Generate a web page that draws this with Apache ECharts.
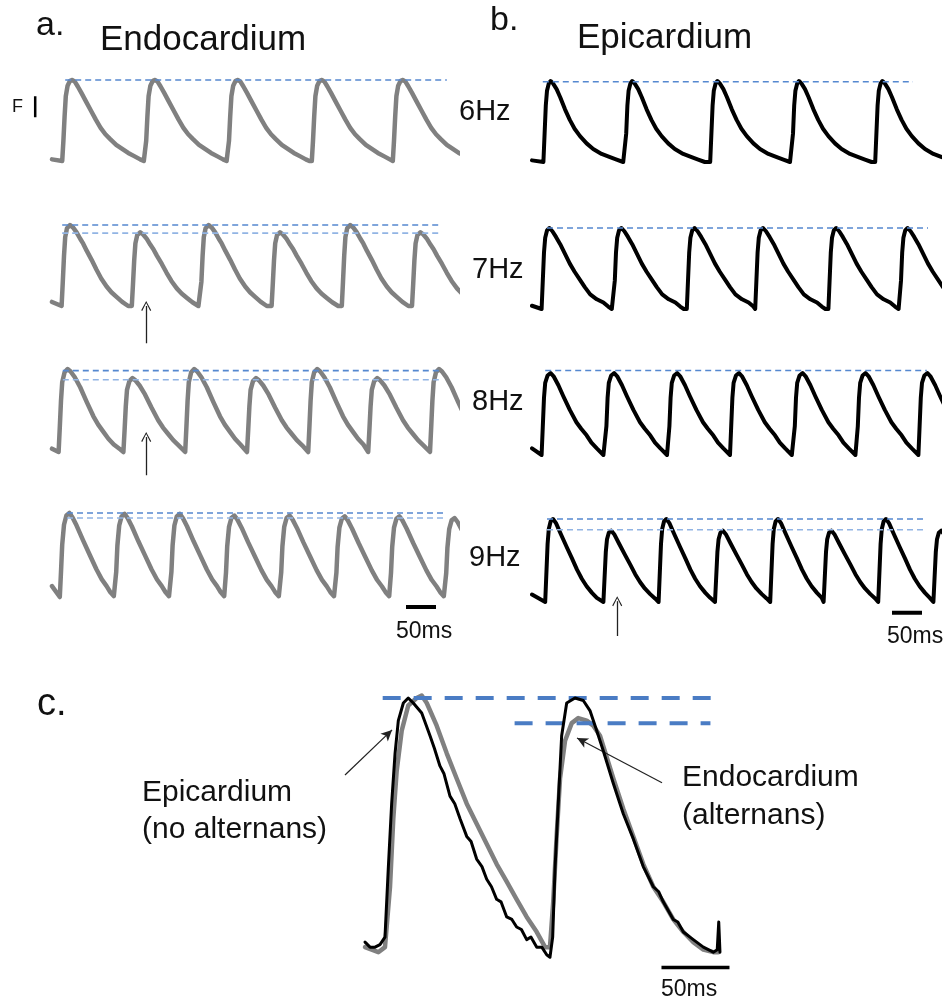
<!DOCTYPE html>
<html><head><meta charset="utf-8">
<script src="https://cdn.jsdelivr.net/npm/echarts@6/dist/echarts.min.js"></script>
<style>html,body{margin:0;padding:0;background:#fff}#c{width:945px;height:1000px}</style>
</head><body><div id="c"></div>
<script>
// ================= DATA =================
const rateLabels = ['6Hz', '7Hz', '8Hz', '9Hz'];

// Endocardium (panel a): beat onset times (ms) and relative peak amplitudes
const endoOnsets6 = [17, 155, 293, 433, 568];
const endoOnsets7 = [16, 133, 247, 366, 483, 600];
const endoOnsets8 = [11, 119, 222, 325, 427, 527, 630];
const endoOnsets9 = [13, 105, 197, 288, 380, 472, 563, 655];
const endoPeaks6 = [1, 1, 1, 1, 1];
const endoPeaks7 = [1, 0.91, 1, 0.91, 1, 0.91];
const endoPeaks8 = [1, 0.89, 1, 0.89, 1, 0.89, 1];
const endoPeaks9 = [1, 0.99, 0.99, 0.97, 0.97, 0.96, 0.96, 0.94];
const endoStart = [0.02, 0.05, 0.04, 0.13];
// Endocardium beat shapes [ms after onset, relative F]
const endoShape6 = [[0,0],[2,0.25],[4,0.55],[6,0.8],[9,0.93],[13,0.99],[17,1.0],[21,0.98],[26,0.92],[32,0.84],[40,0.73],[48,0.62],[56,0.51],[64,0.41],[72,0.33],[80,0.27],[90,0.2],[100,0.15],[110,0.1],[120,0.06],[130,0.02],[136,0.0]];
const endoShape7 = [[0,0],[2,0.3],[4,0.62],[6,0.85],[9,0.96],[14,1.0],[19,0.97],[25,0.91],[31,0.83],[36,0.77],[42,0.68],[50,0.57],[58,0.45],[66,0.34],[75,0.24],[83,0.17],[92,0.11],[101,0.05],[111,0.0]];
const endoShape8 = [[0,0],[2,0.3],[4,0.62],[6,0.84],[10,0.96],[15,1.0],[20,0.97],[27,0.9],[36,0.78],[47,0.6],[58,0.43],[66,0.33],[75,0.24],[83,0.16],[92,0.09],[103,0.03]];
const endoShape9 = [[0,0],[2,0.3],[4,0.62],[7,0.86],[11,0.97],[16,1.0],[21,0.95],[28,0.85],[39,0.67],[50,0.5],[61,0.33],[70,0.21],[78,0.13],[84,0.06],[90,0.01]];
const endoDashLevels = [[1.0], [1.0, 0.9], [0.98, 0.87], [1.0, 0.94]];
const endoDashSpan = [[22, 658], [17, 650], [18, 650], [25, 658]];

// Epicardium (panel b)
const epiOnsets6 = [19, 155, 297, 433, 572];
const epiOnsets7 = [16, 136, 258, 372, 494, 613];
const epiOnsets8 = [16, 122, 227, 330, 436, 541, 644];
const epiOnsets9 = [22, 119, 211, 305, 397, 486, 577, 669];
const epiPeaks6 = [1, 1, 1, 1, 1];
const epiPeaks7 = [1, 1, 1, 1, 1, 1];
const epiPeaks8 = [1, 1, 1, 1, 1, 1, 1];
const epiPeaks9 = [1, 0.86, 1, 0.86, 1, 0.86, 1, 0.86];
const epiStart = [0.02, 0.04, 0.08, 0.09];
const epiShape6 = [[0,0],[2,0.35],[4,0.7],[6,0.88],[9,0.97],[12,1.0],[16,0.97],[22,0.9],[28,0.8],[36,0.65],[44,0.52],[52,0.41],[61,0.32],[72,0.23],[83,0.16],[97,0.1],[111,0.06],[122,0.03],[133,0]];
const epiShape7 = [[0,0],[2,0.35],[4,0.7],[6,0.88],[9,0.97],[13,1.0],[18,0.96],[24,0.89],[31,0.8],[39,0.68],[47,0.56],[55,0.46],[64,0.36],[72,0.27],[81,0.18],[92,0.12],[103,0.08],[111,0.03],[117,0]];
const epiShape8 = [[0,0],[2,0.35],[4,0.7],[6,0.88],[10,0.97],[15,1.0],[20,0.96],[28,0.85],[36,0.72],[47,0.55],[58,0.4],[66,0.32],[75,0.24],[83,0.15],[92,0.08],[103,0]];
const epiShape9 = [[0,0],[2,0.35],[4,0.7],[6,0.88],[9,0.97],[13,1.0],[18,0.95],[26,0.82],[36,0.66],[45,0.52],[53,0.39],[61,0.28],[69,0.19],[78,0.11],[86,0.05],[97,0]];
const epiDashLevels = [[0.99], [1.0], [1.03], [1.0, 0.87]];
const epiDashSpan = [[18, 635], [25, 660], [22, 658], [25, 658]];

// Arrows (ms, relative F): [tail, tip]
const endoArrow7 = [[157, -0.46], [157, 0.0]];
const endoArrow8 = [[157, -0.28], [157, 0.18]];
const epiArrow9 = [[142, -0.41], [142, 0.01]];

// Scale bars
const scaleBarMs = 50;
const endoScaleBar = [[590, -0.12], [640, -0.12]];
const epiScaleBar = [[600, -0.13], [650, -0.13]];
const fBar = [[-28, 0.54], [-28, 0.8]];

// Panel c: overlay of two consecutive beats at 9Hz [ms, relative F]
const epiC = [[0,0.03],[3.7,0.01],[7.4,0.01],[11,0.02],[14.7,0.05],[17.1,0.32],[19.6,0.58],[22.1,0.78],[24.5,0.91],[28.2,0.98],[31.8,1.0],[35.5,0.98],[41.7,0.94],[47.8,0.85],[51,0.8],[55.1,0.73],[58,0.7],[62.5,0.61],[66,0.58],[69.9,0.52],[74.8,0.45],[78,0.43],[82.1,0.36],[86,0.33],[89.5,0.28],[93,0.25],[96.8,0.2],[100,0.19],[104.2,0.13],[108,0.12],[111.5,0.09],[115,0.08],[118.9,0.04],[122,0.05],[126.3,0.01],[130,0.01],[133.6,-0.02],[136,-0.03],[138,0.05],[139.7,0.32],[142.1,0.58],[144.6,0.85],[148.3,0.98],[154.4,1.0],[160.5,0.99],[165.4,0.95],[170.4,0.87],[175.2,0.79],[182.6,0.66],[189.9,0.54],[197.3,0.44],[204.6,0.33],[212,0.25],[216,0.23],[219.3,0.19],[226.7,0.12],[230,0.11],[234.1,0.07],[241.4,0.04],[248.8,0.01],[256.1,-0.01],[259,0],[260.1,0.11],[261,-0.01]];
const endoC = [[0,0.01],[9.8,-0.01],[14.7,0.01],[18.4,0.25],[20.8,0.52],[23.3,0.71],[27,0.87],[31.8,0.97],[38,1.0],[41.7,1.01],[45.4,0.98],[52.7,0.89],[60.1,0.78],[67.4,0.68],[74.8,0.58],[82.1,0.5],[89.5,0.42],[96.8,0.34],[104.2,0.27],[111.5,0.2],[118.9,0.13],[126.3,0.07],[132.4,0.01],[136,0.01],[138.4,0.19],[140.9,0.45],[143.4,0.68],[147.1,0.83],[152,0.9],[156.8,0.92],[163,0.91],[167.9,0.89],[172.8,0.85],[182.6,0.68],[189.9,0.56],[197.3,0.45],[204.6,0.34],[212,0.25],[219.3,0.19],[226.7,0.12],[234.1,0.07],[241.4,0.03],[248.8,0],[256.1,-0.01],[259.8,-0.01]];
const cDashUpper = [[13, 1.0], [257, 1.0]];
const cDashLower = [[110, 0.9], [254, 0.9]];
const cArrowEpi = [[-14.7, 0.694], [19.9, 0.873]];
const cArrowEndo = [[218.4, 0.663], [155.9, 0.841]];
const cScaleBar = [[218, -0.071], [268, -0.071]];

// ================= LAYOUT =================
const FONT = '"Liberation Sans", Arial, sans-serif';
const endoColor = '#808080', epiColor = '#000000';
const dashUpperColor = '#5588d0', dashLowerColor = '#91b4e4';
const Y_MIN = -0.6, Y_MAX = 1.2;
const panelA = {x0: 52, pxPerMs: 0.6, tMin: -35, tMax: 675, peakPx: [80, 225, 369, 513], ppu: [81, 81, 83, 84]};
const panelB = {x0: 532, pxPerMs: 0.6, tMin: -35, tMax: 680, peakPx: [81, 228, 373, 519], ppu: [81, 81, 82, 83]};

const grids = [], xAxes = [], yAxes = [], series = [];
function addGrid(left, top, width, height, xmin, xmax, ymin, ymax) {
  const i = grids.length;
  grids.push({left, top, width, height, containLabel: false, show: false});
  xAxes.push({type: 'value', gridIndex: i, min: xmin, max: xmax, show: false});
  yAxes.push({type: 'value', gridIndex: i, min: ymin, max: ymax, show: false});
  return i;
}
function addLine(gi, data, color, width, extra) {
  series.push(Object.assign({
    type: 'line', xAxisIndex: gi, yAxisIndex: gi, data, symbol: 'none', showSymbol: false,
    silent: true, clip: true, animation: false,
    lineStyle: {color, width, cap: 'round', join: 'round'}, z: 3
  }, extra || {}));
}
function addDash(gi, data, color, width, dash) {
  series.push({
    type: 'line', xAxisIndex: gi, yAxisIndex: gi, data, symbol: 'none', showSymbol: false,
    silent: true, clip: false, animation: false, z: 4,
    lineStyle: {color, width, type: dash, cap: 'butt'}
  });
}
const chevron = 'path://M0,10 L5,0 L10,10 L9,10.8 L5,2.2 L1,10.8 Z';
function addArrow(gi, pts, head, size, width) {
  series.push({
    type: 'line', xAxisIndex: gi, yAxisIndex: gi, data: [pts[0]], symbol: 'none', showSymbol: false,
    silent: true, clip: false, animation: false, lineStyle: {opacity: 0},
    markLine: {
      silent: true, animation: false, symbol: ['none', head], symbolSize: size,
      label: {show: false}, emphasis: {disabled: true},
      lineStyle: {color: '#222', width, type: 'solid', opacity: 1},
      data: [[{coord: pts[0]}, {coord: pts[1]}]]
    }
  });
}
function buildTrace(onsets, peaks, shape, startLevel) {
  const pts = [[0, startLevel]];
  for (let i = 0; i < onsets.length; i++) {
    const o = onsets[i], next = onsets[i + 1];
    for (const [dt, v] of shape) {
      if (next !== undefined && o + dt >= next) break;
      pts.push([o + dt, +(peaks[i] * v).toFixed(3)]);
    }
  }
  return pts;
}

const endoRows = [
  {on: endoOnsets6, pk: endoPeaks6, sh: endoShape6},
  {on: endoOnsets7, pk: endoPeaks7, sh: endoShape7},
  {on: endoOnsets8, pk: endoPeaks8, sh: endoShape8},
  {on: endoOnsets9, pk: endoPeaks9, sh: endoShape9}
];
const epiRows = [
  {on: epiOnsets6, pk: epiPeaks6, sh: epiShape6},
  {on: epiOnsets7, pk: epiPeaks7, sh: epiShape7},
  {on: epiOnsets8, pk: epiPeaks8, sh: epiShape8},
  {on: epiOnsets9, pk: epiPeaks9, sh: epiShape9}
];

// Each row: a main grid (the recorded window, clipped) and an annotation grid sharing the same scale
const endoGrid = [], epiGrid = [], endoAnn = [], epiAnn = [];
function rowGrids(P, r) {
  const top = P.peakPx[r] - (Y_MAX - 1) * P.ppu[r], h = (Y_MAX - Y_MIN) * P.ppu[r];
  const main = addGrid(P.x0, top, P.tMax * P.pxPerMs, h, 0, P.tMax, Y_MIN, Y_MAX);
  const ann = addGrid(P.x0 + P.tMin * P.pxPerMs, top, (P.tMax - P.tMin) * P.pxPerMs, h, P.tMin, P.tMax, Y_MIN, Y_MAX);
  return [main, ann];
}
for (let r = 0; r < 4; r++) {
  let [gi, ga] = rowGrids(panelA, r);
  endoGrid.push(gi); endoAnn.push(ga);
  addLine(gi, buildTrace(endoRows[r].on, endoRows[r].pk, endoRows[r].sh, endoStart[r]), endoColor, 4.5);
  endoDashLevels[r].forEach((lv, k) => addDash(ga, [[endoDashSpan[r][0], lv], [endoDashSpan[r][1], lv]],
                              k === 0 ? dashUpperColor : dashLowerColor, 1.6, [6, 4]));
  [gi, ga] = rowGrids(panelB, r);
  epiGrid.push(gi); epiAnn.push(ga);
  addLine(gi, buildTrace(epiRows[r].on, epiRows[r].pk, epiRows[r].sh, epiStart[r]), epiColor, 4);
  epiDashLevels[r].forEach((lv, k) => addDash(ga, [[epiDashSpan[r][0], lv], [epiDashSpan[r][1], lv]],
                              k === 0 ? dashUpperColor : dashLowerColor, 1.6, [6, 4]));
}
// arrows in panels a/b
addArrow(endoAnn[1], endoArrow7, chevron, [10, 10], 1.3);
addArrow(endoAnn[2], endoArrow8, chevron, [10, 10], 1.3);
addArrow(epiAnn[3], epiArrow9, chevron, [10, 10], 1.3);
// scale bars
const barStyle = w => ({lineStyle: {color: '#000', width: w, cap: 'butt'}});
addLine(endoAnn[3], endoScaleBar, '#000', 4, barStyle(4));
addLine(epiAnn[3], epiScaleBar, '#000', 4, barStyle(4));
addLine(endoAnn[0], fBar, '#000', 2.5, barStyle(2.5));

// panel c
const cPx = {x0: 365, pxPerMs: 1.36, y0: 950, ppu: 252};
const cX = [-20, 270], cY = [-0.2, 1.1];
const gc = addGrid(cPx.x0 + cX[0] * cPx.pxPerMs, cPx.y0 - cY[1] * cPx.ppu,
                   (cX[1] - cX[0]) * cPx.pxPerMs, (cY[1] - cY[0]) * cPx.ppu, cX[0], cX[1], cY[0], cY[1]);
addLine(gc, endoC, endoColor, 4.5);
addLine(gc, epiC, epiColor, 3, {z: 5});
addDash(gc, cDashUpper, '#4a7cc4', 4, [18, 13]);
addDash(gc, cDashLower, '#4a7cc4', 4, [18, 13]);
addArrow(gc, cArrowEpi, 'arrow', [8, 11], 1.2);
addArrow(gc, cArrowEndo, 'arrow', [8, 11], 1.2);
addLine(gc, cScaleBar, '#000', 3.5, barStyle(3.5));

// ================= TEXT =================
function txt(text, x, y, size) {
  return {type: 'text', x, y, z: 100, silent: true,
          style: {text, font: size + 'px ' + FONT, fill: '#111', textAlign: 'left', textVerticalAlign: 'middle'}};
}
const texts = [
  txt('a.', 36, 26, 34), txt('Endocardium', 100, 40, 35),
  txt('b.', 490, 21, 34), txt('Epicardium', 577, 38, 35),
  txt('F', 12, 107, 18),
  txt(rateLabels[0], 459, 112, 29), txt(rateLabels[1], 472, 270, 29),
  txt(rateLabels[2], 472, 402, 29), txt(rateLabels[3], 469, 558, 29),
  txt(scaleBarMs + 'ms', 396, 632, 23), txt(scaleBarMs + 'ms', 887, 637, 23),
  txt('c.', 37, 705, 38),
  txt('Epicardium', 142, 793, 30), txt('(no alternans)', 142, 830, 30),
  txt('Endocardium', 682, 778, 30), txt('(alternans)', 682, 816, 30),
  txt(scaleBarMs + 'ms', 661, 990, 23)
];

const chart = echarts.init(document.getElementById('c'), null, {renderer: 'canvas', width: 945, height: 1000});
chart.setOption({
  animation: false,
  backgroundColor: '#ffffff',
  grid: grids, xAxis: xAxes, yAxis: yAxes, series,
  graphic: texts
});
</script></body></html>
